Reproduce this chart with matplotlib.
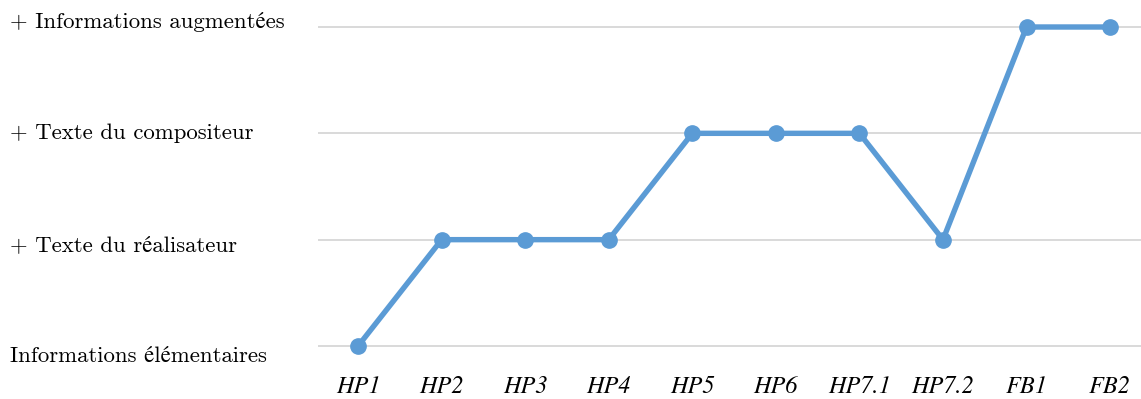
import matplotlib
matplotlib.use("Agg")
import matplotlib.pyplot as plt
import matplotlib.transforms as mtransforms

# Données
etapes = ['HP1', 'HP2', 'HP3', 'HP4', 'HP5', 'HP6', 'HP7.1', 'HP7.2', 'FB1', 'FB2']
niveaux = [0, 1, 1, 1, 2, 2, 2, 1, 3, 3]
libelles = ['Informations élémentaires', '+ Texte du réalisateur',
            '+ Texte du compositeur', '+ Informations augmentées']
niveaux_axe = [0, 1, 2, 3]

bleu = '#5B9BD5'

fig = plt.figure(figsize=(11.41, 3.99), dpi=100)
ax = fig.add_axes([0.2787, 0.0777, 0.7213, 0.9098])

x = list(range(len(etapes)))
ax.plot(x, niveaux, color=bleu, linewidth=3.9, marker='o', markersize=11,
        solid_capstyle='round', zorder=3)

ax.set_xlim(-0.48, 9.37)
ax.set_ylim(-0.207, 3.207)

# grille horizontale
ax.set_yticks(niveaux_axe)
ax.set_yticklabels([])
ax.yaxis.grid(True, color='#D9D9D9', linewidth=1.4)
ax.tick_params(axis='y', length=0)
for s in ax.spines.values():
    s.set_visible(False)

# étiquettes de l'axe x en italique
ax.set_xticks(x)
ax.set_xticklabels(etapes, fontsize=17.5, family='STIXGeneral', style='italic')
ax.tick_params(axis='x', length=0, pad=5)

# étiquettes de gauche (un peu décalées par rapport à la grille)
trans = mtransforms.blended_transform_factory(fig.transFigure, ax.transData)
for niv, txt in zip(niveaux_axe, libelles):
    ax.text(10 / 1141, niv * 1.05 - 0.10, txt, transform=trans, ha='left', va='center',
            fontsize=16.4, family=['cmr10', 'STIXGeneral'], clip_on=False)

fig.savefig('out.png', dpi=100)
